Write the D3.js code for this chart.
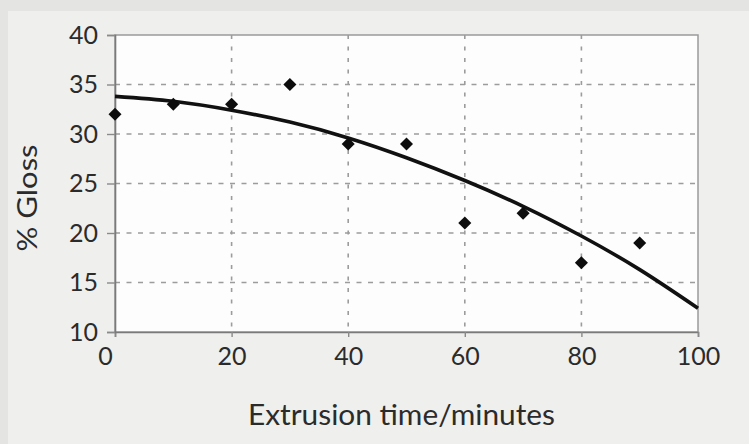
<!DOCTYPE html>
<html>
<head>
<meta charset="utf-8">
<script src="https://cdn.jsdelivr.net/npm/d3@7"></script>
<style>
  body { margin: 0; background: #e4e4e2; }
  svg { display: block; }
  text { font-family: Lato, "Open Sans", sans-serif; fill: #2b2b2b; }
</style>
</head>
<body>
<div id="chart"></div>
<script>
// measured points
var times = [0, 10, 20, 30, 40, 50, 60, 70, 80, 90];
var gloss = [32, 33, 33, 35, 29, 29, 21, 22, 17, 19];

// trend line
var trendTimes = [0, 10, 20, 30, 40, 50, 60, 70, 80, 90, 100];
var trendGloss = [33.8, 33.3, 32.4, 31.2, 29.6, 27.6, 25.3, 22.7, 19.7, 16.3, 12.4];

var xTicks = [0, 20, 40, 60, 80, 100];
var yTicks = [10, 15, 20, 25, 30, 35, 40];

var margin = {top: 35, right: 51, bottom: 112, left: 115},
    width = 749 - margin.left - margin.right,
    height = 444 - margin.top - margin.bottom;

var root = d3.select("#chart")
  .append("svg")
    .attr("width", 749)
    .attr("height", 444);

// light panel behind everything
root.append("rect")
  .attr("x", 8).attr("y", 11)
  .attr("width", 741).attr("height", 433)
  .attr("fill", "#efefed");

var svg = root.append("g")
  .attr("transform", "translate(" + margin.left + "," + margin.top + ")");

var x = d3.scaleLinear()
  .domain([0, 100])
  .range([0, width]);

var y = d3.scaleLinear()
  .domain([10, 40])
  .range([height, 0]);

// plot area
svg.append("rect")
  .attr("width", width)
  .attr("height", height)
  .attr("fill", "#fdfdfd")
  .attr("stroke", "#9a9a9a")
  .attr("stroke-width", 1.5);

// dashed grid
svg.append("g")
  .selectAll("line")
  .data(yTicks.slice(1, -1))
  .enter()
  .append("line")
    .attr("x1", 0).attr("x2", width)
    .attr("y1", function (d) { return y(d); })
    .attr("y2", function (d) { return y(d); })
    .attr("stroke", "#9c9c9c")
    .attr("stroke-width", 1.6)
    .attr("stroke-dasharray", "5,6.5");

svg.append("g")
  .selectAll("line")
  .data(xTicks.slice(1, -1))
  .enter()
  .append("line")
    .attr("x1", function (d) { return x(d); })
    .attr("x2", function (d) { return x(d); })
    .attr("y1", 0).attr("y2", height)
    .attr("stroke", "#9c9c9c")
    .attr("stroke-width", 1.6)
    .attr("stroke-dasharray", "4,7.5");

// axes
var xAxis = svg.append("g")
  .attr("transform", "translate(0," + height + ")")
  .call(d3.axisBottom(x).tickValues(xTicks).tickSize(5).tickPadding(10));

var yAxis = svg.append("g")
  .call(d3.axisLeft(y).tickValues(yTicks).tickSize(8).tickPadding(9));

[xAxis, yAxis].forEach(function (g) {
  g.select(".domain").attr("stroke", "#7a7a7a").attr("stroke-width", 1.6);
  g.selectAll(".tick line").attr("stroke", "#8a8a8a").attr("stroke-width", 1.4);
  g.selectAll(".tick text")
    .attr("fill", "#2b2b2b")
    .style("font-size", "25px")
    .style("font-family", "Lato, sans-serif");
});
xAxis.selectAll(".tick text").filter(function (d) { return d === 0; }).attr("dx", -10);

// trend curve
var line = d3.line()
  .x(function (d) { return x(d[0]); })
  .y(function (d) { return y(d[1]); })
  .curve(d3.curveNatural);

svg.append("path")
  .datum(d3.zip(trendTimes, trendGloss))
  .attr("fill", "none")
  .attr("stroke", "#111")
  .attr("stroke-width", 3.6)
  .attr("d", line);

// diamonds
svg.append("g")
  .selectAll("path")
  .data(d3.zip(times, gloss))
  .enter()
  .append("path")
    .attr("d", d3.symbol(d3.symbolSquare, 85))
    .attr("transform", function (d) {
      return "translate(" + x(d[0]) + "," + y(d[1]) + ") rotate(45)";
    })
    .attr("fill", "#0d0d0d");

// axis titles
root.append("text")
  .attr("x", 401.5)
  .attr("y", 425)
  .attr("text-anchor", "middle")
  .attr("textLength", 307)
  .attr("lengthAdjust", "spacingAndGlyphs")
  .style("font-size", "29px")
  .text("Extrusion time/minutes");

root.append("text")
  .attr("transform", "translate(37,198) rotate(-90)")
  .attr("text-anchor", "middle")
  .attr("textLength", 107)
  .attr("lengthAdjust", "spacingAndGlyphs")
  .style("font-size", "26px")
  .text("% Gloss");
</script>
</body>
</html>
